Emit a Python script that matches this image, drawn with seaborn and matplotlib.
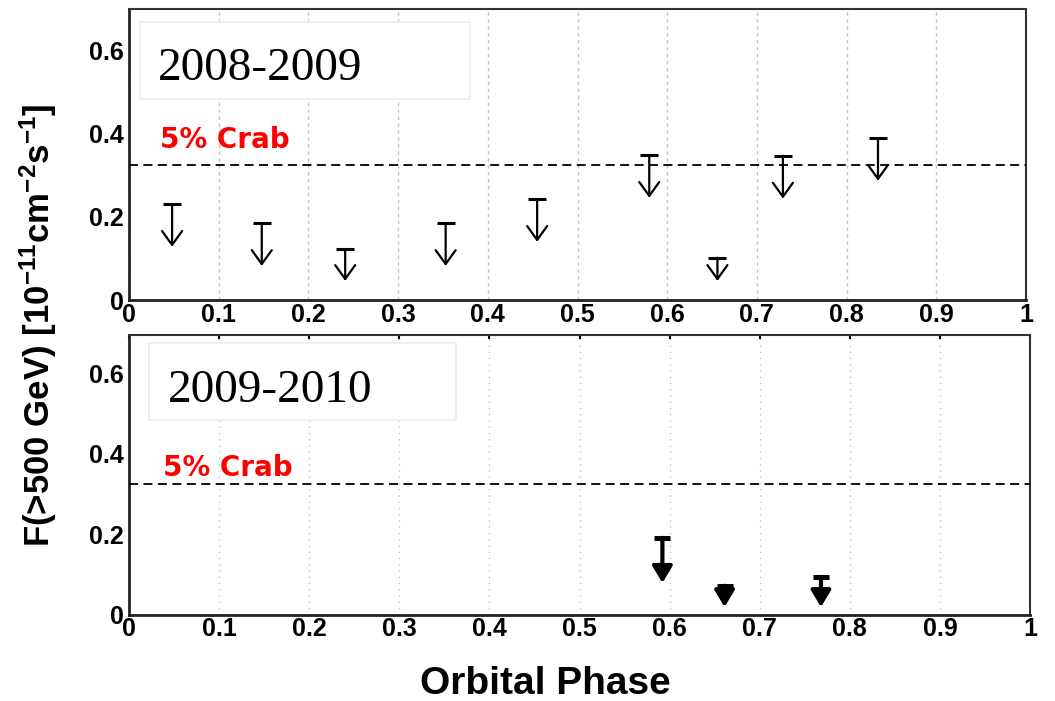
import matplotlib
matplotlib.use("Agg")
import matplotlib.pyplot as plt
from matplotlib.patches import Rectangle
import seaborn as sns
import pandas as pd

# Flux upper limits (>500 GeV, 1e-11 cm^-2 s^-1) versus orbital phase
phase_0809 = [0.048, 0.148, 0.241, 0.353, 0.455, 0.580, 0.656, 0.729, 0.835]
ul_0809 = [0.231, 0.185, 0.122, 0.185, 0.243, 0.349, 0.102, 0.347, 0.390]

phase_0910 = [0.592, 0.661, 0.768]
ul_0910 = [0.191, 0.072, 0.094]

crab_5pct = 0.325
season_labels = ["2008-2009", "2009-2010"]
x_ticks = [0, 0.1, 0.2, 0.3, 0.4, 0.5, 0.6, 0.7, 0.8, 0.9, 1]
x_ticklabels = ["0", "0.1", "0.2", "0.3", "0.4", "0.5", "0.6", "0.7", "0.8", "0.9", "1"]
y_ticks = [0, 0.2, 0.4, 0.6]
y_ticklabels = ["0", "0.2", "0.4", "0.6"]

sns.set_style("white")
plt.rcParams["font.family"] = ["Liberation Sans", "DejaVu Sans"]
plt.rcParams["text.color"] = "black"
plt.rcParams["axes.labelcolor"] = "black"
plt.rcParams["xtick.color"] = "black"
plt.rcParams["ytick.color"] = "black"
plt.rcParams["mathtext.fontset"] = "custom"
plt.rcParams["mathtext.rm"] = "Liberation Sans:bold"
plt.rcParams["mathtext.it"] = "Liberation Sans:bold"
plt.rcParams["mathtext.bf"] = "Liberation Sans:bold"
plt.rcParams["mathtext.default"] = "rm"

fig = plt.figure(figsize=(10.55, 7.01), dpi=100)
ax_top = fig.add_axes([0.1223, 0.572, 0.8502, 0.4151])
ax_bot = fig.add_axes([0.1223, 0.1231, 0.854, 0.399])

panels = [
    dict(ax=ax_top, phase=phase_0809, ul=ul_0809, ymax=0.70, arrow_len=0.103,
         floor=0.046, lw=1.6, style="->", head=(0.5, 0.36),
         box=(0.0123, 0.691, 0.368, 0.265), label_xy=(0.0323, 0.756),
         crab_xy=(0.0346, 0.366), grid_ls=(0, (2.5, 2.5)), cap=13,
         top_ticks=False),
    dict(ax=ax_bot, phase=phase_0910, ul=ul_0910, ymax=0.695, arrow_len=0.112,
         floor=0.019, lw=3.0, style="-|>", head=(0.5, 0.3),
         box=(0.022, 0.695, 0.341, 0.275), label_xy=(0.043, 0.761),
         crab_xy=(0.0377, 0.344), grid_ls=(0, (1, 3.5)), cap=12,
         top_ticks=True),
]

for p, season in zip(panels, season_labels):
    ax = p["ax"]
    df = pd.DataFrame({"phase": p["phase"], "ul": p["ul"]})

    # caps at the upper-limit values
    sns.scatterplot(data=df, x="phase", y="ul", ax=ax, marker="_",
                    s=p["cap"] ** 2, color="black", linewidth=p["lw"] + 0.6,
                    zorder=4, legend=False)

    # downward arrows from each limit
    for x, y in zip(df["phase"], df["ul"]):
        tip = max(y - p["arrow_len"], p["floor"])
        hl, hw = p["head"]
        ax.annotate("", xy=(x, tip), xytext=(x, y),
                    arrowprops=dict(arrowstyle=f"{p['style']},head_length={hl},head_width={hw}",
                                    mutation_scale=20, lw=p["lw"], color="black",
                                    fc="black", shrinkA=0, shrinkB=0),
                    zorder=4)

    ax.axhline(crab_5pct, color="black", lw=1.3, ls=(0, (5, 3)), zorder=3)
    ax.text(*p["crab_xy"], "5% Crab", color="red", fontsize=20, fontweight="bold",
            family="DejaVu Sans", va="baseline", ha="left", zorder=5)

    ax.set_xlim(0, 1)
    ax.set_ylim(0, p["ymax"])
    ax.set_xticks(x_ticks)
    ax.set_xticklabels(x_ticklabels)
    ax.set_yticks(y_ticks)
    ax.set_yticklabels(y_ticklabels)
    ax.set_xlabel("")
    ax.set_ylabel("")

    ax.set_axisbelow(True)
    ax.xaxis.grid(True, color="#c4c4c4", lw=1.0, ls=p["grid_ls"], zorder=0.5)
    ax.yaxis.grid(False)

    ax.add_patch(Rectangle(p["box"][:2], p["box"][2], p["box"][3],
                           transform=ax.transAxes, facecolor="white",
                           edgecolor="#ececec", lw=1.2, zorder=1.5))
    ax.text(*p["label_xy"], season, transform=ax.transAxes,
            family="Liberation Serif", fontsize=34, va="baseline", ha="left",
            zorder=5)

    for side in ["left", "bottom"]:
        ax.spines[side].set_linewidth(2.0)
        ax.spines[side].set_color("#222222")
    ax.spines["top"].set_linewidth(1.5)
    ax.spines["top"].set_color("#333333")
    ax.spines["right"].set_linewidth(1.5)
    ax.spines["right"].set_linestyle((0, (1, 1)))
    ax.spines["right"].set_color("#333333")

    ax.tick_params(axis="x", direction="in", length=9, width=2, top=False,
                   labelsize=18, pad=2)
    ax.tick_params(axis="y", direction="in", length=15, width=1.5,
                   labelsize=18, pad=4)
    for lab in ax.get_xticklabels() + ax.get_yticklabels():
        lab.set_fontweight("bold")

    if p["top_ticks"]:
        sec = ax.secondary_xaxis("top")
        sec.set_xticks(x_ticks)
        sec.tick_params(axis="x", direction="in", length=3, width=1.5,
                        labeltop=False)
        sec.spines["top"].set_visible(False)

fig.text(0.036, 0.536, r"F(>500 GeV) [10$^{-11}$cm$^{-2}$s$^{-1}$]",
         rotation=90, fontsize=25, fontweight="bold", ha="center", va="center")
fig.text(0.517, 0.024, "Orbital Phase", fontsize=28, fontweight="bold",
         ha="center", va="center")

fig.savefig("out.png", dpi=100)
